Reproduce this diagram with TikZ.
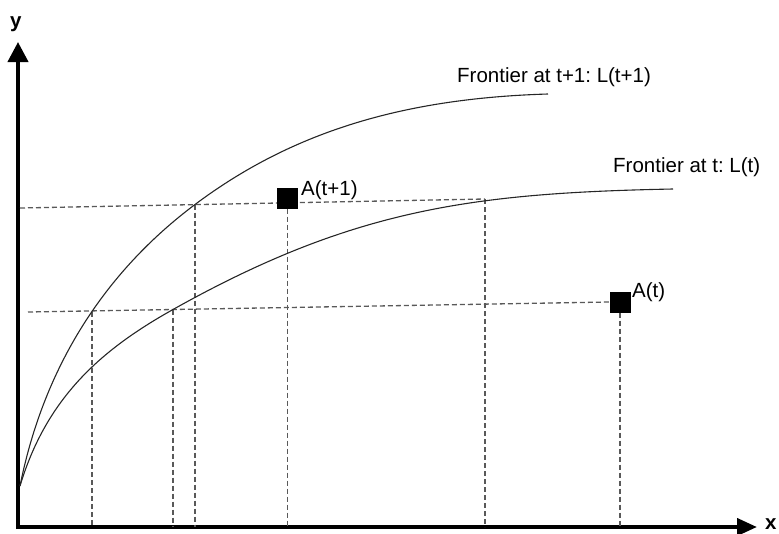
\documentclass[tikz,border=0pt]{standalone}
\usepackage{fontspec}
\setmainfont{Liberation Sans}
\usetikzlibrary{arrows.meta}
\frenchspacing
\begin{document}
\begin{tikzpicture}[x=1pt,y=-1pt,
  axis/.style={line width=4pt},
  guide/.style={draw=black!65, line width=1.3pt, dash pattern=on 5pt off 3pt},
  frontier/.style={draw=black!85, line width=1.1pt},
  point/.style={fill=black, draw=none, minimum size=21pt, inner sep=0pt},
  lab/.style={font=\fontsize{20.5}{24}\selectfont, inner sep=0pt, anchor=base west},
  axlab/.style={font=\fontsize{20.5}{24}\selectfont\bfseries, inner sep=0pt, anchor=base west}]
\useasboundingbox (0,0) rectangle (779,533);
% axes
\coordinate (O) at (18,527);
\coordinate (ytip) at (18,42);
\coordinate (xtip) at (757,527);
\draw[axis, -{Triangle[length=20pt,width=20pt]}] (18,529) -- (ytip);
\draw[axis, -{Triangle[length=20pt,width=17pt]}] (16,527) -- (xtip);
\node[axlab] (ylab) at (10,27) {y};
\node[axlab] (xlab) at (765,529) {x};
% key points
\coordinate (s0) at (20,486);
\coordinate (u1) at (92,312);
\coordinate (l1) at (173,309.5);
\coordinate (u2) at (195,204.5);
\coordinate (l2) at (485,199);
\coordinate (uend) at (548,94);
\coordinate (lend) at (673,189);
\coordinate (h1s) at (20,208);
\coordinate (h2s) at (28,312);
\node[point] (At) at (620,302) {};
\node[point] (At1) at (287.5,198) {};
% guide lines
\draw[guide] (h1s) -- (l2);
\draw[guide] (h2s) -- (At.west);
\draw[guide] (u1) -- (u1 |- O);
\draw[guide] (l1) -- (l1 |- O);
\draw[guide] (u2) -- (u2 |- O);
\draw[guide] (l2) -- (l2 |- O);
\draw[guide] (At1.south) -- (At1.south |- O);
\draw[guide] (At.south) -- (At.south |- O);
% squares on top
\node[point] at (At) {};
\node[point] at (At1) {};
% frontiers
\draw[frontier] (s0) .. controls (44,366) and (105,272) .. (u2)
                     .. controls (295,129.5) and (408,98.2) .. (uend);
\draw[frontier] (s0) .. controls (47,396) and (103,348.7) .. (l1)
                     .. controls (353,208.7) and (473,193) .. (lend);
% labels
\node[lab] (lt1) at (457,82) {Frontier at t+1: L(t+1)};
\node[lab] (lt) at (613,172) {Frontier at t: L(t)};
\node[lab] (at1lab) at (301,195) {A(t+1)};
\node[lab] (atlab) at (632,297) {A(t)};
\end{tikzpicture}
\end{document}
